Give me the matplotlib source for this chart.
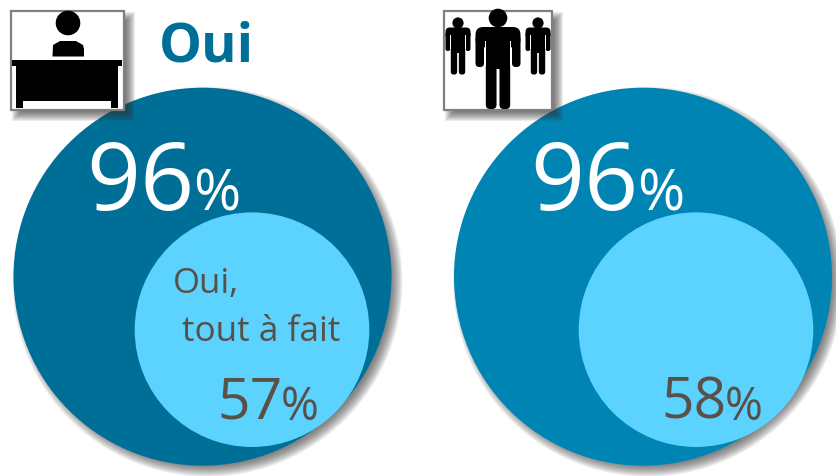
import matplotlib
matplotlib.use("Agg")
import matplotlib.pyplot as plt
from matplotlib.patches import Circle, Rectangle, FancyBboxPatch

plt.rcParams['font.family'] = ['Open Sans', 'DejaVu Sans']

title = "Oui"
sublabel = ["Oui,", "tout à fait"]
outer_pct = [96, 96]
inner_pct = [57, 58]
outer_colors = ["#006F98", "#0084B4"]
INNER = "#5CD2FF"
TEXT = "#595048"

fig = plt.figure(figsize=(8.37, 4.77), dpi=100)
ax = fig.add_axes([0, 0, 1, 1])
ax.set_xlim(0, 837)
ax.set_ylim(477, 0)
ax.axis("off")


def soft_shadow_circle(cx, cy, r, dx=5, dy=5, blur=12, z=1):
    for i in range(blur, 0, -1):
        ax.add_patch(Circle((cx + dx, cy + dy), r + i - blur / 2, fc="#404040",
                            ec="none", alpha=0.08, zorder=z))


def soft_shadow_rect(x0, y0, x1, y1, dx=6, dy=6, blur=10, z=5):
    for i in range(blur, 0, -1):
        g = i - blur / 2
        ax.add_patch(Rectangle((x0 + dx - g, y0 + dy - g), x1 - x0 + 2 * g, y1 - y0 + 2 * g,
                               fc="#303030", ec="none", alpha=0.09, zorder=z))


def frame(x0, y0, x1, y1):
    soft_shadow_rect(x0, y0, x1, y1)
    ax.add_patch(Rectangle((x0, y0), x1 - x0, y1 - y0, fc="white", ec="#808080", lw=1.6, zorder=6))


def box(x0, y0, x1, y1, color="black", z=7):
    ax.add_patch(Rectangle((x0, y0), x1 - x0, y1 - y0, fc=color, ec="none", zorder=z))


def rbox(x0, y0, x1, y1, rad, color="black", z=7):
    ax.add_patch(FancyBboxPatch((x0 + rad, y0 + rad), x1 - x0 - 2 * rad, y1 - y0 - 2 * rad,
                                boxstyle=f"round,pad={rad}", fc=color, ec="none", zorder=z))


def person(cx, head_y, head_r, top, half_w, arm_w, arm_bot, leg_half, crotch, bot):
    ax.add_patch(Circle((cx, head_y), head_r, fc="black", ec="none", zorder=7))
    rbox(cx - half_w, top, cx + half_w, top + 2.4 * arm_w, arm_w * 0.9)
    rbox(cx - half_w, top + arm_w, cx - half_w + arm_w, arm_bot, arm_w * 0.45)
    rbox(cx + half_w - arm_w, top + arm_w, cx + half_w, arm_bot, arm_w * 0.45)
    box(cx - leg_half, top + 2, cx + leg_half, crotch + 2)
    gap = leg_half * 0.12
    rbox(cx - leg_half, crotch - 4, cx - gap, bot, (leg_half - gap) * 0.4)
    rbox(cx + gap, crotch - 4, cx + leg_half, bot, (leg_half - gap) * 0.4)
    box(cx - leg_half - 1, top + arm_w * 1.6, cx - leg_half, arm_bot - 2, "white", 8)
    box(cx + leg_half, top + arm_w * 1.6, cx + leg_half + 1, arm_bot - 2, "white", 8)


# circles
outer_xy = [(202.5, 277.7), (643, 277.7)]
inner_xy = [(252, 330.7), (696, 330.7)]
for (cx, cy), col in zip(outer_xy, outer_colors):
    soft_shadow_circle(cx, cy, 189)
    ax.add_patch(Circle((cx, cy), 189, fc=col, ec="none", zorder=2))
for cx, cy in inner_xy:
    ax.add_patch(Circle((cx, cy), 117.3, fc=INNER, ec="none", zorder=3))

# left icon
frame(11.5, 11.5, 124, 110.5)
ax.add_patch(Circle((68, 24), 12.3, fc="black", ec="none", zorder=7))
ax.fill([52.5, 53, 60, 76, 83, 84, 84, 52.5], [57.5, 46, 42, 42, 46, 50, 57.5, 57.5],
        fc="black", ec="none", zorder=7)
box(12.5, 61, 122, 67)
box(16.5, 67, 118, 102)
box(16.5, 102, 23.5, 109)
box(111, 102, 118, 109)

# right icon
frame(444.5, 11.5, 552, 110.5)
person(498, 19, 9.3, 28, 22.5, 8.5, 68, 12.2, 68, 110)
person(458, 24, 5.6, 28.5, 12.5, 4.8, 52, 7.2, 52, 75.5)
person(538, 24, 5.6, 28.5, 12.5, 4.8, 52, 7.2, 52, 75.5)

# texts
ax.text(159, 62, title, fontsize=39, fontweight="bold", color=outer_colors[0], zorder=9,
        ha="left", va="baseline")

for x_num, x_pc, val in zip((86, 530), (193, 637), outer_pct):
    ax.text(x_num, 210, str(val), fontsize=68, color="white", zorder=9, ha="left", va="baseline")
    ax.text(x_pc, 211, "%", fontsize=41, color="white", zorder=9, ha="left", va="baseline")

for x_num, x_pc, val in zip((217, 661), (281, 725), inner_pct):
    ax.text(x_num, 419, str(val), fontsize=41, color=TEXT, zorder=9, ha="left", va="baseline")
    ax.text(x_pc, 420, "%", fontsize=33, color=TEXT, zorder=9, ha="left", va="baseline")

ax.text(173, 293, sublabel[0], fontsize=25, color=TEXT, zorder=9, ha="left", va="baseline")
ax.text(182, 341, sublabel[1], fontsize=25.3, color=TEXT, zorder=9, ha="left", va="baseline")

fig.savefig("out.png", dpi=100, facecolor="white")
